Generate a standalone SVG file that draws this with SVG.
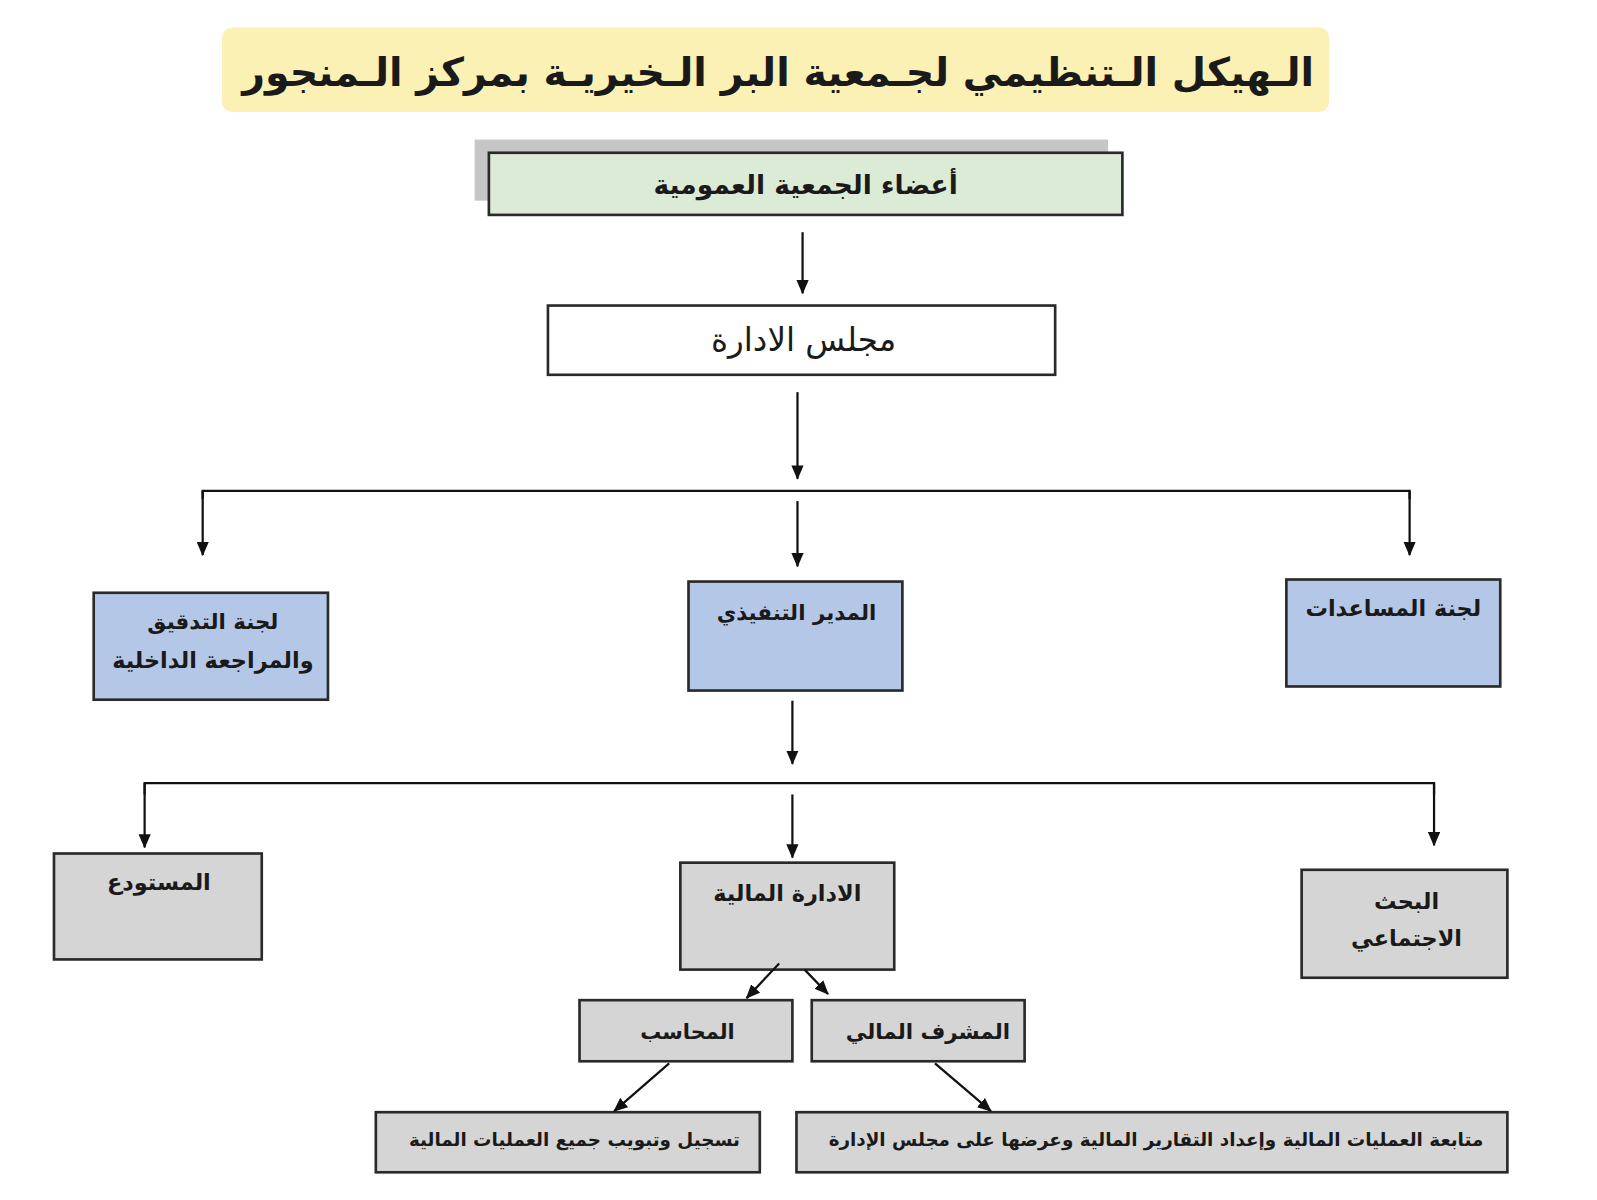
<svg xmlns="http://www.w3.org/2000/svg" width="1597" height="1200" viewBox="0 0 1597 1200">
<defs>
<marker id="ah" viewBox="0 0 14 12" refX="13" refY="6" markerWidth="14" markerHeight="12" markerUnits="userSpaceOnUse" orient="auto">
<path d="M0,0 L14,6 L0,12 z" fill="#111"/>
</marker>
</defs>
<style>
.box{stroke:#2a2a2a;stroke-width:2.6}
.blue{fill:#b4c7e7}
.gray{fill:#d6d5d6}
.t{font-family:"DejaVu Sans","Noto Sans",sans-serif;font-weight:bold;fill:#1a1a1a;text-anchor:middle}
.n{font-weight:normal}
.c{stroke:#111;stroke-width:2.2;fill:none}
.ca{stroke:#111;stroke-width:2.2;fill:none;marker-end:url(#ah)}
</style>
<rect width="1597" height="1200" fill="#ffffff"/>
<g transform="scale(1.0185)">
<g id="title">
<rect x="218" y="27" width="1087" height="83" rx="10" fill="#fbf1b5"/>
<text x="764" y="84" class="t" font-size="38.8">الـهيكل الـتنظيمي لجـمعية البر الـخيريـة بمركز الـمنجور</text>
</g>
<g id="general-assembly">
<rect x="466" y="137" width="622" height="60" fill="#c6c6c6"/>
<rect x="480" y="150" width="622" height="61" class="box" fill="#dcebd6"/>
<text x="791" y="190" class="t" font-size="26">أعضاء الجمعية العمومية</text>
</g>
<g id="board">
<rect x="538" y="300" width="498" height="68" class="box" fill="#ffffff"/>
<text x="789" y="345" class="t n" font-size="32">مجلس الادارة</text>
</g>
<g id="audit">
<rect x="92" y="582" width="230" height="105" class="box blue"/>
<text x="209" y="618" class="t" font-size="21">لجنة التدقيق</text>
<text x="209" y="656" class="t" font-size="22">والمراجعة الداخلية</text>
</g>
<g id="executive">
<rect x="676" y="571" width="210" height="107" class="box blue"/>
<text x="782" y="609" class="t" font-size="21">المدير التنفيذي</text>
</g>
<g id="aid">
<rect x="1263" y="569" width="210" height="105" class="box blue"/>
<text x="1368" y="605" class="t" font-size="22">لجنة المساعدات</text>
</g>
<g id="warehouse">
<rect x="53" y="838" width="204" height="104" class="box gray"/>
<text x="156" y="874" class="t" font-size="22">المستودع</text>
</g>
<g id="finance">
<rect x="668" y="847" width="210" height="105" class="box gray"/>
<text x="773" y="885" class="t" font-size="22">الادارة المالية</text>
</g>
<g id="social">
<rect x="1278" y="854" width="202" height="106" class="box gray"/>
<text x="1381" y="892" class="t" font-size="22">البحث</text>
<text x="1381" y="929" class="t" font-size="22">الاجتماعي</text>
</g>
<g id="accountant">
<rect x="569" y="982" width="209" height="60" class="box gray"/>
<text x="675" y="1020" class="t" font-size="20.5">المحاسب</text>
</g>
<g id="supervisor">
<rect x="797" y="982" width="209" height="60" class="box gray"/>
<text x="911" y="1020" class="t" font-size="21">المشرف المالي</text>
</g>
<g id="record">
<rect x="369" y="1092" width="377" height="59" class="box gray"/>
<text x="564" y="1125" class="t" font-size="18">تسجيل وتبويب جميع العمليات المالية</text>
</g>
<g id="follow">
<rect x="782" y="1092" width="698" height="59" class="box gray"/>
<text x="1135" y="1125" class="t" font-size="18">متابعة العمليات المالية وإعداد التقارير المالية وعرضها على مجلس الإدارة</text>
</g>
<g id="connectors">
<line x1="788" y1="228" x2="788" y2="288" class="ca"/>
<line x1="783" y1="385" x2="783" y2="470" class="ca"/>
<polyline points="199,490 199,482 1384,482 1384,490" class="c"/>
<line x1="199" y1="482" x2="199" y2="545" class="ca"/>
<line x1="1384" y1="482" x2="1384" y2="545" class="ca"/>
<line x1="783" y1="492" x2="783" y2="556" class="ca"/>
<line x1="778" y1="688" x2="778" y2="750" class="ca"/>
<polyline points="142,780 142,769 1408,769 1408,780" class="c"/>
<line x1="142" y1="769" x2="142" y2="832" class="ca"/>
<line x1="1408" y1="769" x2="1408" y2="830" class="ca"/>
<line x1="778" y1="780" x2="778" y2="842" class="ca"/>
<line x1="765" y1="946" x2="733" y2="980" class="ca"/>
<line x1="790" y1="952" x2="813" y2="976" class="ca"/>
<line x1="657" y1="1044" x2="603" y2="1091" class="ca"/>
<line x1="918" y1="1044" x2="973" y2="1091" class="ca"/>
</g>
</g>
</svg>
